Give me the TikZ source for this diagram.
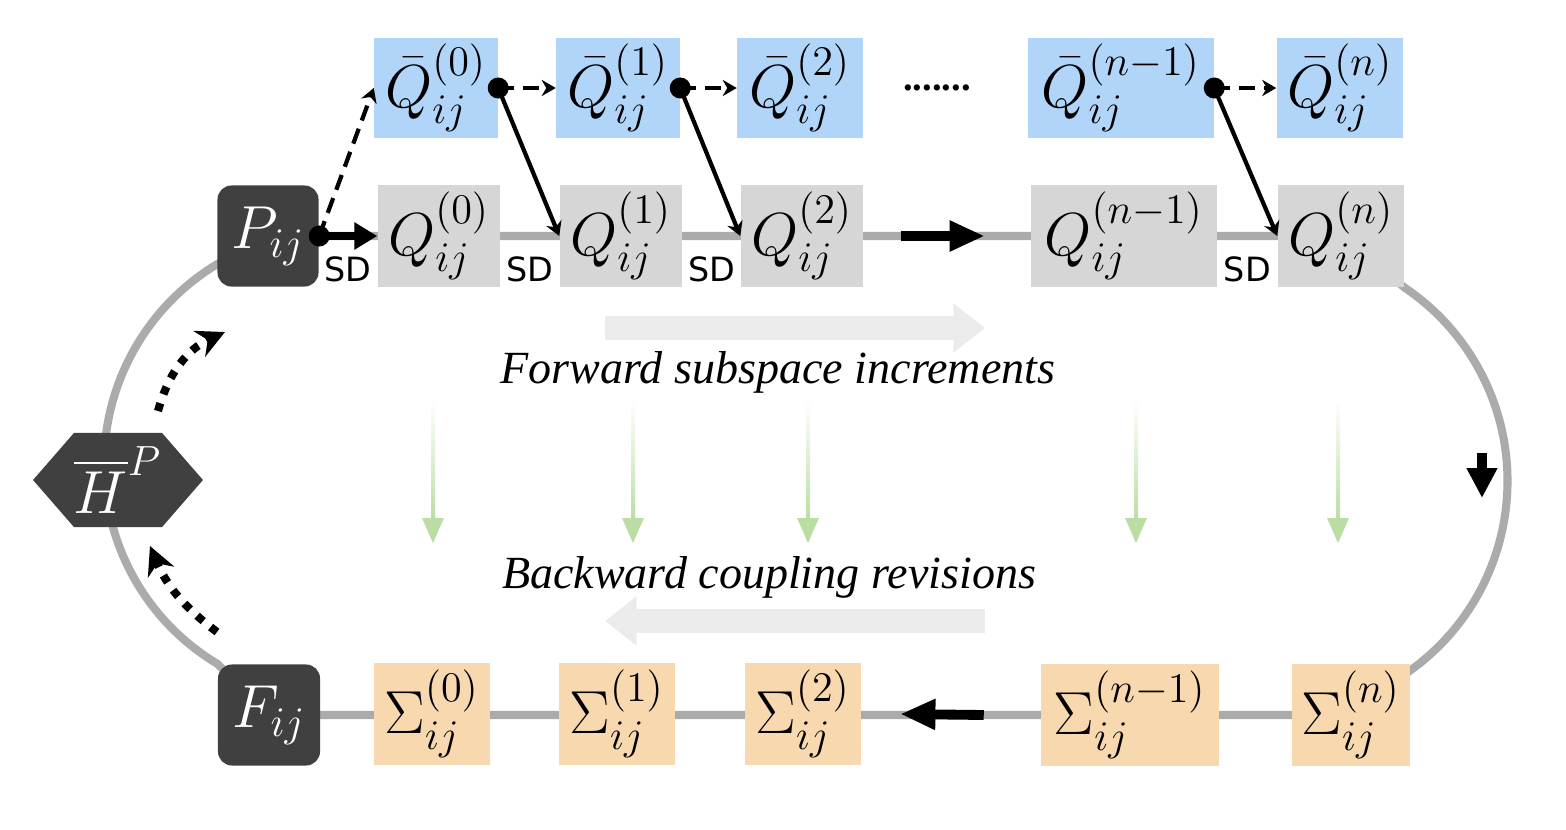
\documentclass[tikz,border=0pt]{standalone}
\usepackage{amsmath}
\usepackage{fontspec}
\usepackage{tikz}
\usepackage{xcolor}
\usetikzlibrary{arrows.meta,shapes.symbols,calc,backgrounds,positioning}
\newfontfamily\capfont{Liberation Serif}
\newfontfamily\sdfont{DejaVu Sans}
\definecolor{qbar-blue}{HTML}{B1D5F9}
\definecolor{q-gray}{HTML}{D6D6D6}
\definecolor{sigma-orange}{HTML}{F8D8AF}
\definecolor{dark-gray}{HTML}{404040}
\definecolor{loop-gray}{HTML}{ABABAB}
\definecolor{pale-gray}{HTML}{EBEBEB}
\definecolor{pale-green}{HTML}{B9DDA2}
\tikzset{
    mat-box/.style = {rectangle, inner sep=0pt, minimum height=1cm, font=\fontsize{17}{20}\selectfont},
    qbar-box/.style = {mat-box, fill=qbar-blue, minimum width=1.23cm},
    q-box/.style = {mat-box, fill=q-gray, minimum width=1.22cm, minimum height=1.02cm},
    sigma-box/.style = {mat-box, fill=sigma-orange, minimum width=1.15cm, minimum height=1.02cm},
    dark-box/.style = {mat-box, fill=dark-gray, text=white, rounded corners=4pt, minimum width=1.01cm, minimum height=1.01cm},
    hex-box/.style = {mat-box, signal, signal to=west and east, signal pointer angle=98, fill=dark-gray, text=white, minimum width=1.66cm, minimum height=0.94cm},
    dot/.style = {circle, fill=black, inner sep=0pt, minimum size=0.21cm},
    sd-label/.style = {font=\sdfont\fontsize{9.5}{10}\selectfont, inner sep=0pt},
    caption-text/.style = {font=\capfont\itshape\fontsize{13.1}{15}\selectfont, inner sep=0pt},
    loop-line/.style = {draw=loop-gray, line width=2.3pt, line join=round},
    dash-arrow/.style = {line width=1.2pt, dash pattern=on 4.5pt off 2.5pt, -{Stealth[length=4pt,width=4.6pt]}},
    solid-arrow/.style = {line width=1.2pt, -{Stealth[length=4pt,width=4.6pt]}},
    flow-arrow/.style = {line width=2.8pt, -{Triangle[length=10pt,width=8.2pt]}},
    hp-arrow/.style = {line width=2.3pt, dash pattern=on 2.3pt off 2.7pt, -{Stealth[length=8pt,width=8pt]}},
    pale-arrow/.style = {draw=pale-gray, line width=6.8pt, -{Triangle[length=9pt,width=13.5pt]}},
}

\begin{document}
\begin{tikzpicture}[x=0.01cm, y=-0.01cm]
\useasboundingbox (0,0) rectangle (1566,830);

\node[qbar-box] (Qb0) at (436,88) {$\bar{Q}^{(0)}_{ij}$};
\node[qbar-box] (Qb1) at (618,88) {$\bar{Q}^{(1)}_{ij}$};
\node[qbar-box, minimum width=1.25cm] (Qb2) at (800,88) {$\bar{Q}^{(2)}_{ij}$};
\node (more) at (937,88) {\capfont\bfseries\fontsize{11}{12}\selectfont .......};
\node[qbar-box, minimum width=1.85cm] (Qbn1) at (1121,88) {$\bar{Q}^{(n-1)}_{ij}$};
\node[qbar-box, minimum width=1.26cm] (Qbn) at (1340,88) {$\bar{Q}^{(n)}_{ij}$};

\node[dark-box] (P) at (268,236) {$P_{ij}$};
\node[q-box] (Q0) at (439,236) {$Q^{(0)}_{ij}$};
\node[q-box] (Q1) at (621,236) {$Q^{(1)}_{ij}$};
\node[q-box] (Q2) at (802,236) {$Q^{(2)}_{ij}$};
\node[q-box, minimum width=1.85cm] (Qn1) at (1124,236) {$Q^{(n-1)}_{ij}$};
\node[q-box, minimum width=1.26cm] (Qn) at (1341,236) {$Q^{(n)}_{ij}$};

\node[hex-box] (H) at (118,480) {$\overline{H}^{P}$};

\node[dark-box, minimum width=1.02cm] (F) at (269,715) {$F_{ij}$};
\node[sigma-box] (S0) at (432,714) {$\Sigma^{(0)}_{ij}$};
\node[sigma-box] (S1) at (617,714) {$\Sigma^{(1)}_{ij}$};
\node[sigma-box] (S2) at (803,714) {$\Sigma^{(2)}_{ij}$};
\node[sigma-box, minimum width=1.77cm] (Sn1) at (1130,715) {$\Sigma^{(n-1)}_{ij}$};
\node[sigma-box, minimum width=1.17cm] (Sn) at (1351,715) {$\Sigma^{(n)}_{ij}$};

\begin{scope}[on background layer]
\draw[loop-line] (Qn.center) -- (Qn.south east) arc[start angle=56, end angle=-55, radius=2.33cm]
    -- (Sn.center) -- (F.center) -- (F.north west) arc[start angle=239, end angle=121, radius=2.33cm]
    -- (P.center) -- cycle;
\end{scope}

\node[sd-label] at ($(P.east)!.5!(Q0.west)+(0,33)$) {SD};
\node[sd-label] at ($(Q0.east)!.5!(Q1.west)+(0,33)$) {SD};
\node[sd-label] at ($(Q1.east)!.5!(Q2.west)+(0,33)$) {SD};
\node[sd-label] at ($(Qn1.east)!.5!(Qn.west)+(0,33)$) {SD};

\node[dot] (pd) at (P.east) {};
\node[dot] (bd0) at (Qb0.east) {};
\node[dot] (bd1) at (Qb1.east) {};
\node[dot] (bdn) at (Qbn1.east) {};

\draw[line width=2pt, -{Triangle[length=6.5pt,width=7.4pt]}] (pd.center) -- (Q0.west);
\draw[dash-arrow] (pd.center) -- (Qb0.west);
\draw[dash-arrow] (bd0.center) -- (Qb1.west);
\draw[dash-arrow] (bd1.center) -- (Qb2.west);
\draw[dash-arrow] (bdn.center) -- (Qbn.west);
\draw[solid-arrow] (bd0.center) -- (Q1.west);
\draw[solid-arrow] (bd1.center) -- (Q2.west);
\draw[solid-arrow] (bdn.center) -- (Qn.west);

\draw[flow-arrow] ($(Q2.east)+(37,0)$) -- ($(Qn1.west)+(-46,0)$);
\draw[flow-arrow] ($(Sn1.west)+(-57,0)$) -- ($(S2.east)+(39,0)$);
\draw[flow-arrow, -{Triangle[length=8.5pt,width=8.2pt]}] (1482,453) -- (1482,498);

\coordinate (hp1) at (158,411);
\coordinate (hp2) at (225,332);
\coordinate (hf1) at (217,632);
\coordinate (hf2) at (150,546);
\draw[hp-arrow] (hp1) to[bend left=25] (hp2);
\draw[hp-arrow] (hf1) to[bend left=15] (hf2);

\draw[pale-arrow] (605,328) -- (985,328);
\draw[pale-arrow] (985,621) -- (605,621);
\node[caption-text] (fwd) at (778,372) {Forward subspace increments};
\node[caption-text] (bwd) at (769,577) {Backward coupling revisions};

\foreach \gx in {433,633,808,1136,1338} {
    \shade[top color=white, bottom color=pale-green] ({\gx-2},400) rectangle ({\gx+2},522);
    \fill[pale-green] ({\gx-11},518) -- ({\gx+11},518) -- (\gx,543) -- cycle;
}
\end{tikzpicture}
\end{document}
